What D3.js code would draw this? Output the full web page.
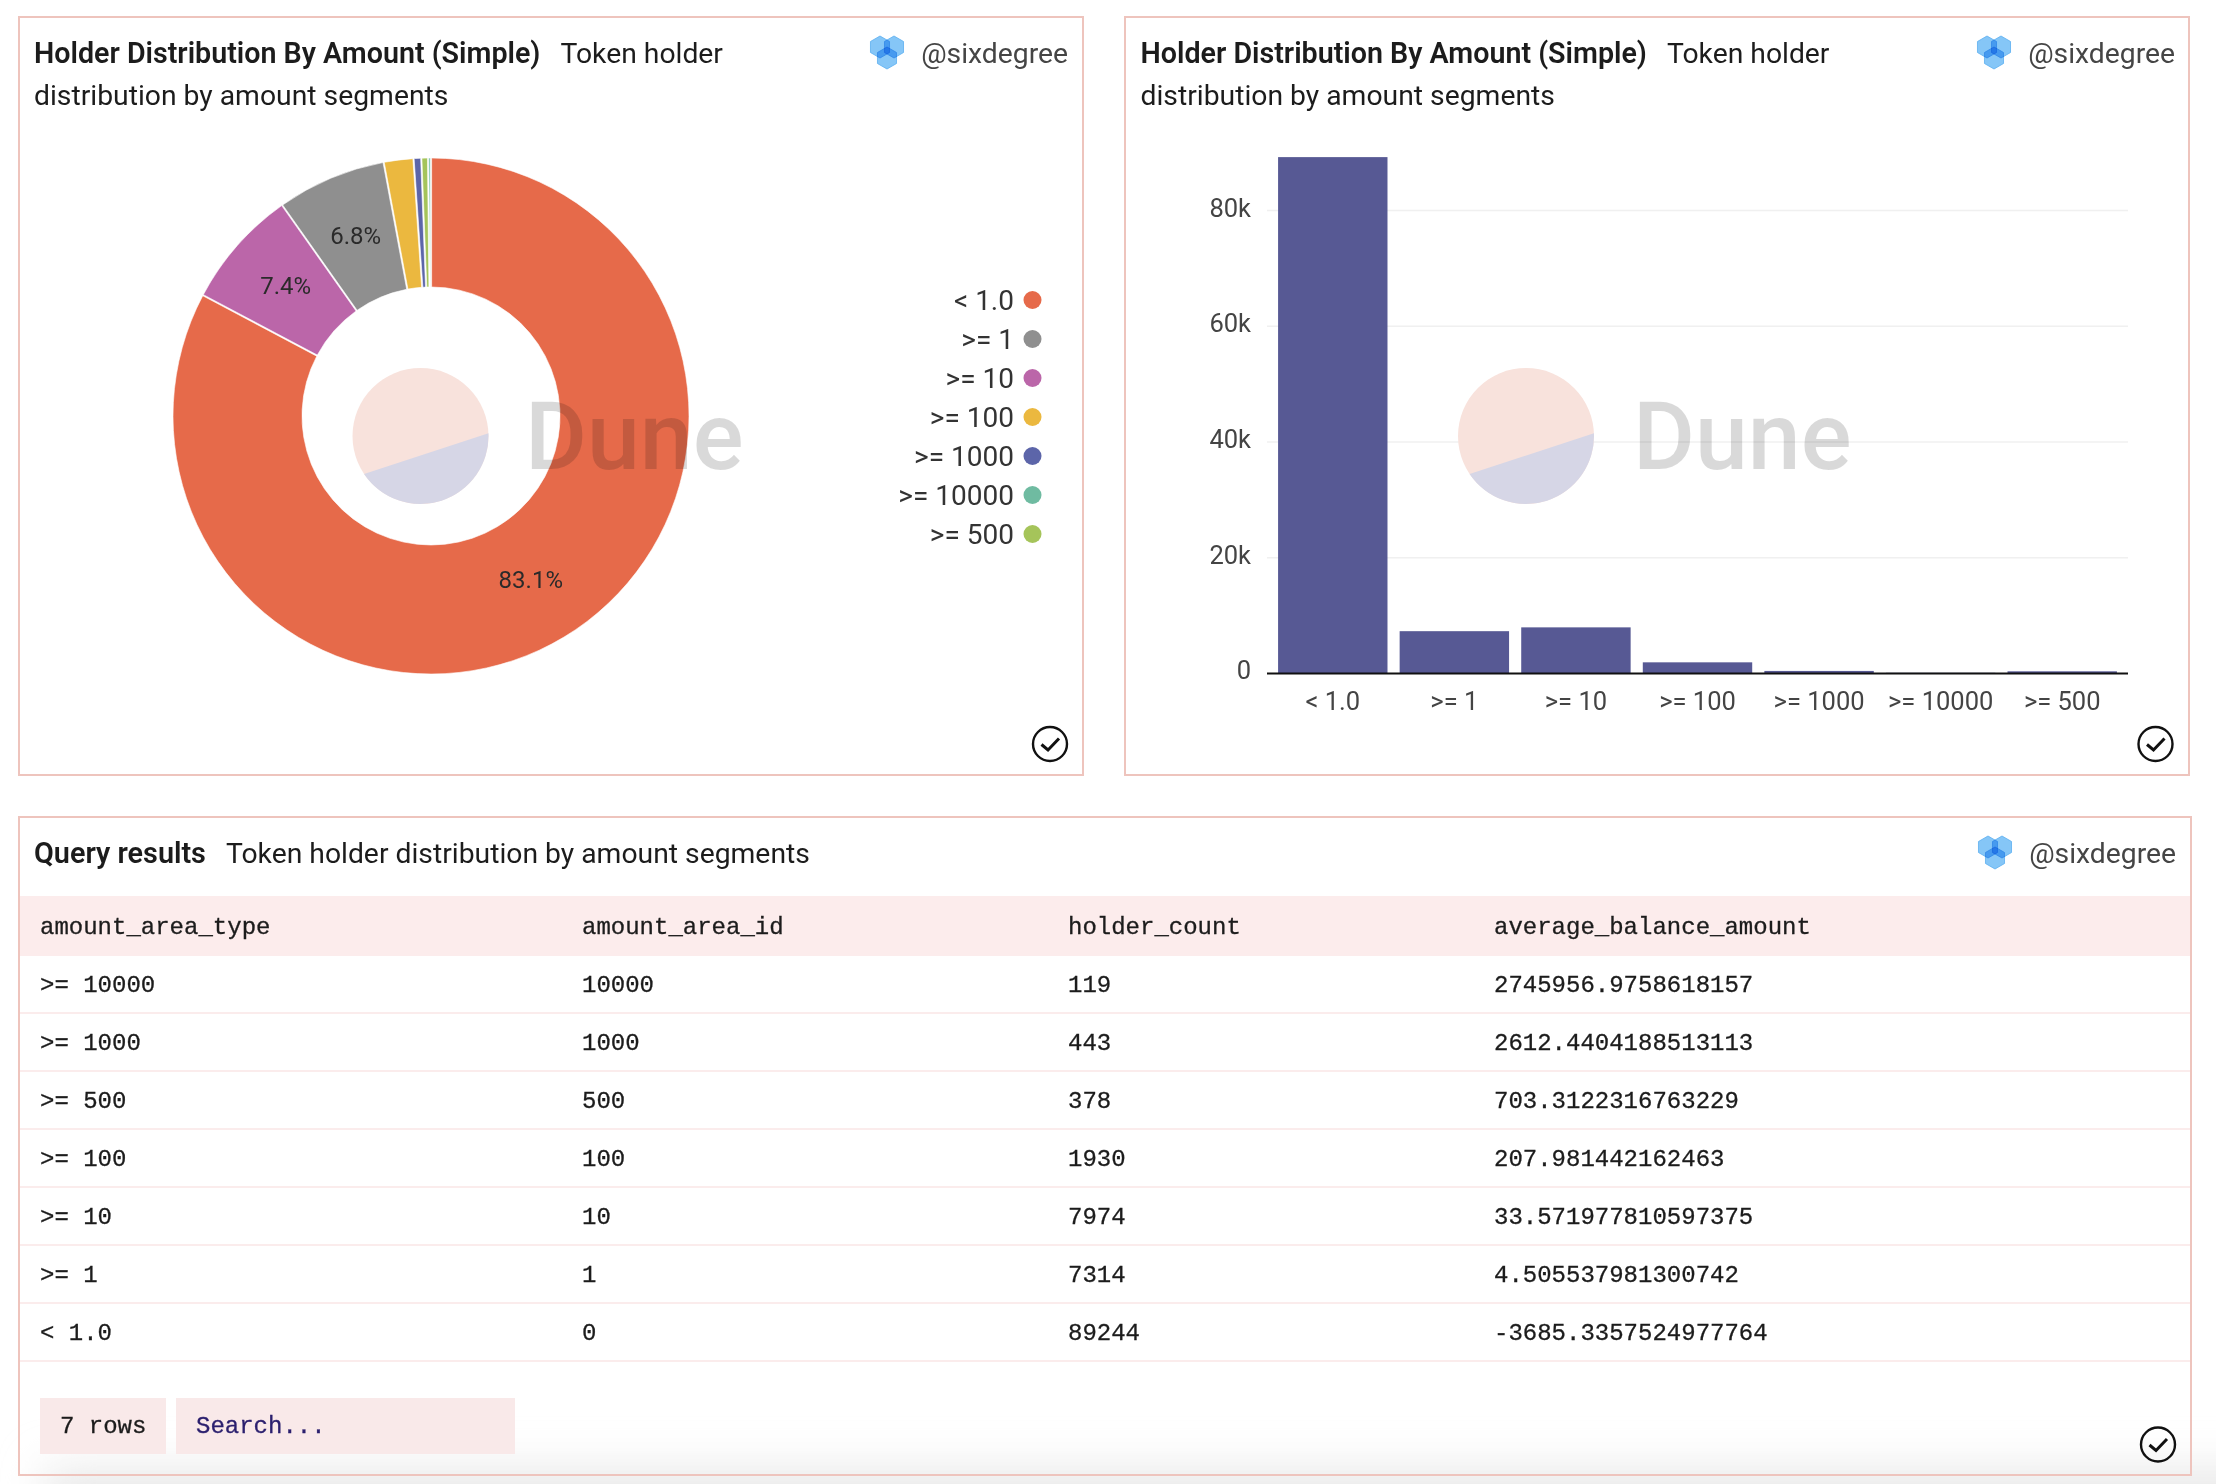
<!DOCTYPE html>
<html>
<head>
<meta charset="utf-8">
<title>Holder Distribution By Amount</title>
<script src="https://d3js.org/d3.v7.min.js"></script>
<style>
  html, body { margin: 0; padding: 0; background: #fff; }
  svg { display: block; }
  text { font-family: Roboto, sans-serif; fill: #1c1c1c; }
  .mono { font-family: "Liberation Mono", monospace; font-size: 24px; stroke: #1c1c1c; stroke-width: 0.3; }
</style>
</head>
<body>
<svg id="chart" width="2216" height="1484"></svg>
<script>
// chart data, alphabetical as in the legend
var categories = ["< 1.0", ">= 1", ">= 10", ">= 100", ">= 1000", ">= 10000", ">= 500"];
var holderCounts = [89244, 7314, 7974, 1930, 443, 119, 378];
var sliceColors = ["#e66a4a", "#8f8f8f", "#bb66a9", "#ebb83f", "#5c65a9", "#6fbba1", "#a5c45a"];
var yTicks = [0, 20000, 40000, 60000, 80000];

// table, in the order of the query result
var tableColumns = ["amount_area_type", "amount_area_id", "holder_count", "average_balance_amount"];
var rowTypes = [">= 10000", ">= 1000", ">= 500", ">= 100", ">= 10", ">= 1", "< 1.0"];
var rowIds = ["10000", "1000", "500", "100", "10", "1", "0"];
var rowCounts = ["119", "443", "378", "1930", "7974", "7314", "89244"];
var rowBalances = ["2745956.9758618157", "2612.4404188513113", "703.3122316763229", "207.981442162463",
  "33.571977810597375", "4.505537981300742", "-3685.3357524977764"];

var svg = d3.select("#chart");
var borderColor = "#eec4bd";

var defs = svg.append("defs");
defs.append("filter")
  .attr("id", "soft")
  .attr("filterUnits", "userSpaceOnUse")
  .attr("x", 0).attr("y", 1350).attr("width", 2216).attr("height", 134)
  .append("feGaussianBlur").attr("stdDeviation", 22);

function panel(x0, x1, y0, y1, fill) {
  svg.append("rect")
    .attr("x", x0).attr("y", y0)
    .attr("width", x1 - x0).attr("height", y1 - y0)
    .attr("fill", fill)
    .attr("stroke", borderColor)
    .attr("stroke-width", 2);
}

function hexagon(cx, cy, r) {
  var pts = d3.range(6).map(function(i) {
    var a = Math.PI / 3 * i;
    return [cx + r * Math.sin(a), cy - r * Math.cos(a)];
  });
  return d3.line()(pts) + "Z";
}

function logo(cx, cy) {
  var g = svg.append("g").style("isolation", "isolate");
  [[-7, -5], [7, -5], [0, 6]].forEach(function(c) {
    g.append("path")
      .attr("d", hexagon(cx + c[0], cy + c[1], 11))
      .attr("fill", "#85c6f7")
      .attr("stroke", "#5aaef0")
      .attr("stroke-width", 0.8)
      .style("mix-blend-mode", "multiply");
  });
}

function user(right, y) {
  svg.append("text")
    .attr("x", right).attr("y", y)
    .attr("text-anchor", "end")
    .attr("font-size", 28.3)
    .style("fill", "#454545")
    .text("@sixdegree");
}

function checkMark(cx, cy) {
  svg.append("circle")
    .attr("cx", cx).attr("cy", cy).attr("r", 17)
    .attr("fill", "none").attr("stroke", "#111").attr("stroke-width", 2.4);
  svg.append("path")
    .attr("d", d3.line()([[cx - 8.5, cy + 0.5], [cx - 2, cy + 6], [cx + 9, cy - 5.5]]))
    .attr("fill", "none").attr("stroke", "#111").attr("stroke-width", 3);
}

// title block shared by the two chart panels
function chartHeader(left, right) {
  var first = svg.append("text").attr("x", left).attr("y", 63).attr("font-size", 28.3);
  first.append("tspan").attr("font-weight", 600).attr("font-size", 28.65).text("Holder Distribution By Amount (Simple)");
  first.append("tspan").attr("dx", 20).text("Token holder");
  svg.append("text").attr("x", left).attr("y", 105).attr("font-size", 28.3).text("distribution by amount segments");
  logo(right - 181, 52);
  user(right, 63);
}

function watermark(cx, cy, textX) {
  var r = 68;
  var g = svg.append("g").attr("class", "watermark");
  g.append("circle").attr("cx", cx).attr("cy", cy).attr("r", r).attr("fill", "#f8e2dc");
  // lower part of the disc is cut off by a slanted chord
  var seg = d3.path();
  seg.arc(cx, cy, r, -0.04, 2.55);
  seg.closePath();
  g.append("path").attr("d", seg.toString()).attr("fill", "#d6d6e6");
  g.append("text")
    .attr("x", textX).attr("y", 469)
    .attr("font-size", 95)
    .attr("font-weight", 500)
    .style("fill", "#000")
    .style("fill-opacity", 0.15)
    .text("Dune");
}

panel(19, 1083, 17, 775, "#fff");
panel(1125, 2189, 17, 775, "#fff");
panel(19, 2191, 817, 1475, "#fff");

// soft shadow along the bottom edge of the screenshot
svg.append("rect")
  .attr("x", 45).attr("y", 1468)
  .attr("width", 2300).attr("height", 80)
  .attr("fill", "#e9e9e9")
  .attr("filter", "url(#soft)");
panel(19, 2191, 817, 1475, "none");

// ---- donut ----
chartHeader(34, 1068);

var color = d3.scaleOrdinal().domain(categories).range(sliceColors);
var total = d3.sum(holderCounts);
var pieData = d3.pie()
  .sort(function(a, b) { return b.value - a.value; })
  .padAngle(0.0044)
  .value(function(d) { return d.value; })(categories.map(function(c, i) { return { name: c, value: holderCounts[i] }; }));
var arc = d3.arc().innerRadius(129).outerRadius(258);

var pieG = svg.append("g").attr("transform", "translate(431,416)");
pieG.selectAll("path")
  .data(pieData)
  .enter()
  .append("path")
  .attr("d", arc)
  .attr("fill", function(d) { return color(d.data.name); })
  .attr("stroke", "#fff")
  .attr("stroke-width", 0.6);

watermark(420.5, 436, 525);

pieG.selectAll("text")
  .data(pieData.filter(function(d) { return d.value / total > 0.04; }))
  .enter()
  .append("text")
  .attr("transform", function(d) { return "translate(" + arc.centroid(d) + ")"; })
  .attr("text-anchor", "middle")
  .attr("dy", "0.25em")
  .attr("font-size", 24)
  .style("fill", "#2a2a2a")
  .text(function(d) { return d3.format(".1f")(d.value / total * 100) + "%"; });

var legendY = d3.scalePoint().domain(categories).range([300, 534]);
var legend = svg.selectAll(".legend")
  .data(categories)
  .enter()
  .append("g")
  .attr("class", "legend")
  .attr("transform", function(d) { return "translate(0," + legendY(d) + ")"; });
legend.append("text")
  .attr("x", 1014)
  .attr("text-anchor", "end")
  .attr("dy", "0.36em")
  .attr("font-size", 28)
  .style("fill", "#333")
  .text(function(d) { return d; });
legend.append("circle")
  .attr("cx", 1032.5)
  .attr("r", 9)
  .attr("fill", function(d) { return color(d); });

checkMark(1050, 744);

// ---- bars ----
chartHeader(1140.5, 2175);

var x = d3.scaleBand().domain(categories).range([1272, 2123]).paddingInner(0.1).paddingOuter(0.05);
var y = d3.scaleLinear().domain([0, 80000]).range([673.5, 210.6]);

svg.append("g").selectAll("line")
  .data(yTicks.filter(function(d) { return d > 0; }))
  .enter()
  .append("line")
  .attr("x1", 1267).attr("x2", 2128)
  .attr("y1", function(d) { return y(d); })
  .attr("y2", function(d) { return y(d); })
  .attr("stroke", "#f0f0f0")
  .attr("stroke-width", 1.5);

svg.append("g").selectAll("text")
  .data(yTicks)
  .enter()
  .append("text")
  .attr("x", 1251)
  .attr("y", function(d) { return y(d) - 3; })
  .attr("text-anchor", "end")
  .attr("dy", "0.35em")
  .attr("font-size", 25.5)
  .style("fill", "#444")
  .text(function(d) { return d === 0 ? "0" : d / 1000 + "k"; });

svg.append("g").selectAll("rect")
  .data(categories)
  .enter()
  .append("rect")
  .attr("x", function(d) { return x(d); })
  .attr("width", x.bandwidth())
  .attr("y", function(d, i) { return y(holderCounts[i]); })
  .attr("height", function(d, i) { return y(0) - y(holderCounts[i]); })
  .attr("fill", "#575994");

var xAxis = svg.append("g")
  .attr("transform", "translate(0," + y(0) + ")")
  .call(d3.axisBottom(x).tickSize(0).tickPadding(18));
xAxis.select(".domain").attr("d", "M1267,0H2128").attr("stroke", "#111").attr("stroke-width", 2);
xAxis.selectAll("text")
  .style("font-family", "Roboto, sans-serif")
  .style("font-size", "25.5px")
  .style("fill", "#444");

watermark(1526, 436, 1633);
checkMark(2155.5, 744);

// ---- table ----
var tableHead = svg.append("text").attr("x", 34).attr("y", 863).attr("font-size", 28.3);
tableHead.append("tspan").attr("font-weight", 600).attr("font-size", 28.8).text("Query results");
tableHead.append("tspan").attr("dx", 20).text("Token holder distribution by amount segments");
logo(1995, 852);
user(2176, 863);

var columnX = d3.scaleOrdinal().domain(tableColumns).range([40, 582, 1068, 1494]);
var rowY = d3.scaleBand().domain(rowTypes).range([955, 1361]);

svg.append("rect")
  .attr("x", 20).attr("y", 896)
  .attr("width", 2170).attr("height", 60)
  .attr("fill", "#fcecec");

svg.append("g").selectAll("text")
  .data(tableColumns)
  .enter()
  .append("text")
  .attr("class", "mono")
  .attr("x", function(d) { return columnX(d); })
  .attr("y", 926)
  .attr("dy", "0.32em")
  .text(function(d) { return d; });

var rows = svg.selectAll(".row")
  .data(rowTypes)
  .enter()
  .append("g")
  .attr("class", "row")
  .attr("transform", function(d) { return "translate(0," + rowY(d) + ")"; });

rows.append("line")
  .attr("x1", 20).attr("x2", 2190)
  .attr("y1", rowY.bandwidth()).attr("y2", rowY.bandwidth())
  .attr("stroke", "#fbecec")
  .attr("stroke-width", 2);

rows.selectAll("text")
  .data(function(d, i) { return [rowTypes[i], rowIds[i], rowCounts[i], rowBalances[i]]; })
  .enter()
  .append("text")
  .attr("class", "mono")
  .attr("x", function(d, i) { return columnX(tableColumns[i]); })
  .attr("y", rowY.bandwidth() / 2)
  .attr("dy", "0.32em")
  .text(function(d) { return d; });

svg.append("rect").attr("x", 40).attr("y", 1398).attr("width", 126).attr("height", 56).attr("fill", "#f9e9e9");
svg.append("rect").attr("x", 176).attr("y", 1398).attr("width", 339).attr("height", 56).attr("fill", "#f9e9e9");
svg.append("text").attr("class", "mono").attr("x", 60).attr("y", 1425).attr("dy", "0.32em").text(rowTypes.length + " rows");
svg.append("text").attr("class", "mono").attr("x", 196).attr("y", 1425).attr("dy", "0.32em")
  .style("fill", "#2b1f6e").style("stroke", "#2b1f6e").text("Search...");

checkMark(2158, 1444.5);
</script>
</body>
</html>
